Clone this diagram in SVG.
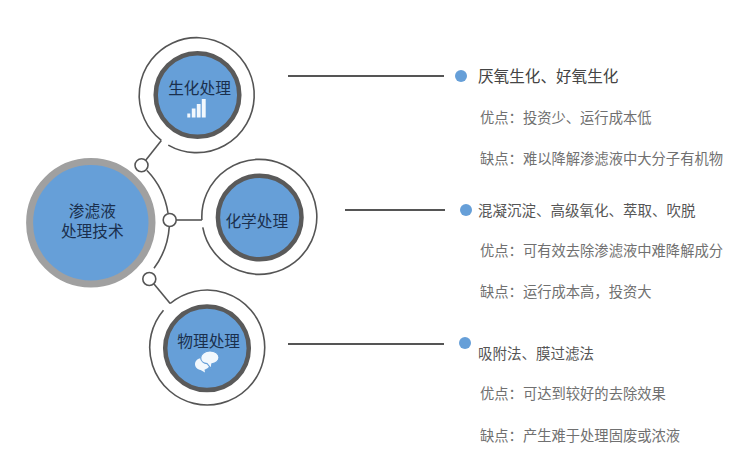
<svg xmlns="http://www.w3.org/2000/svg" width="753" height="461" viewBox="0 0 753 461">
<style>
text{font-family:"Noto Sans CJK SC","Noto Sans",sans-serif}
.ln{fill:none;stroke:#555;stroke-width:1.6}
.hl{fill:none;stroke:#555;stroke-width:1.8}
.ring{fill:#fff;stroke:#555;stroke-width:1.6}
.in{fill:#669fd8;stroke:#5a5a5a;stroke-width:4.5}
.t{font-size:15.7px;fill:#1a2f4d;text-anchor:middle}
.h{font-size:15.6px;fill:#444}
.h2{font-size:14.5px;fill:#555}
.d{font-size:14.3px;fill:#707070}
.dot{fill:#669fd8}
.ic{fill:#f2f8fd}
</style>
<rect width="753" height="461" fill="#fff"/>
<g id="connectors">
<path class="ln" d="M161.33 140.47A57.5 57.5 0 1 1 168.24 145.1"/>
<path class="ln" d="M201.9 220A57.5 57.5 0 1 1 202.77 227.29"/>
<path class="ln" d="M170.17 303.51A57.5 57.5 0 1 1 163.48 310.16"/>
<path class="ln" d="M145.5 160.5L161.33 140.47"/>
<path class="ln" d="M176 220H201.9"/>
<path class="ln" d="M154 284L170.17 303.51"/>
<path class="ln" d="M147 170.5A78.5 78.5 0 0 1 168 213"/>
<path class="ln" d="M169.3 226.5A78.5 78.5 0 0 1 154 268.3"/>
<circle class="ring" cx="141.5" cy="165.3" r="6.5"/>
<circle class="ring" cx="169.7" cy="220" r="6.5"/>
<circle class="ring" cx="149.3" cy="279" r="6.5"/>
<path class="hl" d="M288 76H444M345 210H445M288 344H444"/>
</g>
<g id="center"><circle cx="90.8" cy="222.8" r="61.2" fill="#669fd8" stroke="#a0a0a0" stroke-width="7"/>
<text class="t"><tspan x="92.3" y="217">渗滤液</tspan><tspan x="92.3" y="237">处理技术</tspan></text></g>
<g id="bio"><circle class="in" cx="197.500" cy="95" r="41.800"/>
<text class="t" x="199.500" y="94">生化处理</text>
<path class="ic" d="M187.300 113.500h3v4h-3zM191.800 108.500h3.700v9h-3.700zM196.800 104h3.800v13.500h-3.800zM201.800 99h3.900v18.500h-3.900z"/></g>
<g id="chem"><circle class="in" cx="259.700" cy="217.500" r="41.800"/>
<text class="t" x="256.800" y="226.500">化学处理</text></g>
<g id="phys"><circle class="in" cx="207" cy="348.300" r="41.800"/>
<text class="t" x="208.700" y="346.500">物理处理</text>
<path class="ic" d="M202 358c-3.800 0-7 2.800-7 6.300 0 3 2.500 5.300 5.600 5.800l4.400 2.500-.5-2.900c2.800-.7 5.500-2.900 5.500-5.600 0-3.300-4-6.100-8-6.100z"/>
<path class="ic" d="M210 351c-5 0-9.300 2.900-9.300 6.700 0 3.300 3 5.600 6.500 6l4 5 .7-4.800c3.900-.6 7.100-3.300 7.100-6.400 0-3.700-4-6.500-9-6.500z" stroke="#669fd8" stroke-width="1.200"/></g>
<g id="list-bio"><circle class="dot" cx="461" cy="76" r="6"/>
<text class="h" x="478" y="82">厌氧生化、好氧生化</text>
<text class="d" x="480" y="123">优点：投资少、运行成本低</text>
<text class="d" x="480" y="164">缺点：难以降解渗滤液中大分子有机物</text></g>
<g id="list-chem"><circle class="dot" cx="466" cy="210" r="6"/>
<text class="h2" x="478" y="216">混凝沉淀、高级氧化、萃取、吹脱</text>
<text class="d" x="480" y="256">优点：可有效去除渗滤液中难降解成分</text>
<text class="d" x="480" y="297">缺点：运行成本高，投资大</text></g>
<g id="list-phys"><circle class="dot" cx="465" cy="343" r="6"/>
<text class="h2" x="478" y="359">吸附法、膜过滤法</text>
<text class="d" x="480" y="399">优点：可达到较好的去除效果</text>
<text class="d" x="480" y="441">缺点：产生难于处理固废或浓液</text></g>
</svg>
